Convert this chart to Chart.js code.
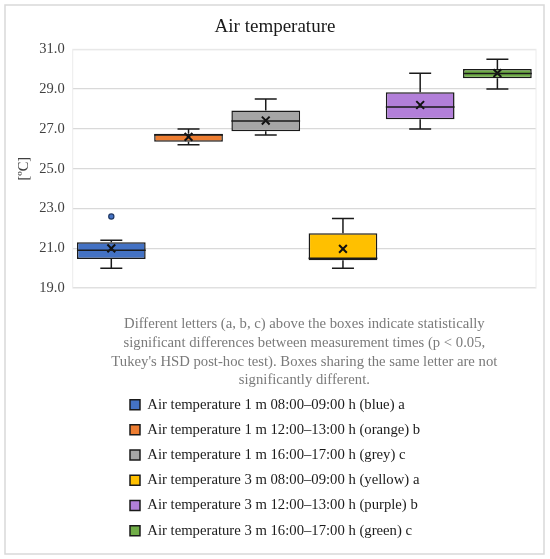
<!DOCTYPE html>
<html lang="en">
<head>
    <meta charset="UTF-8">
    <title>Air temperature</title>
    <script src="https://cdn.jsdelivr.net/npm/chart.js"></script>
    <style>
        body { margin: 0; background: #fff; }
        canvas { display: block; }
    </style>
</head>
<body>
    <canvas id="myChart" width="550" height="559"></canvas>

    <script>
        // series shown as boxes, one per measurement time
        const categories = ['1 m 08-09', '1 m 12-13', '1 m 16-17', '3 m 08-09', '3 m 12-13', '3 m 16-17'];
        const seriesNames = [
            'Air temperature 1 m 08:00–09:00 h (blue) a',
            'Air temperature 1 m 12:00–13:00 h (orange) b',
            'Air temperature 1 m 16:00–17:00 h (grey) c',
            'Air temperature 3 m 08:00–09:00 h (yellow) a',
            'Air temperature 3 m 12:00–13:00 h (purple) b',
            'Air temperature 3 m 16:00–17:00 h (green) c'
        ];
        const boxColors = ['#4472C4', '#ED7D31', '#A5A5A5', '#FFC000', '#B27FD9', '#70AD47'];

        // box plot values [ºC]
        const whiskerLow  = [20.0, 26.2, 26.7, 20.0, 27.0, 29.0];
        const q1          = [20.46, 26.35, 26.88, 20.4, 27.49, 29.54];
        const medians     = [20.9, 26.7, 27.4, 20.5, 28.1, 29.78];
        const q3          = [21.31, 26.76, 27.92, 21.76, 28.84, 30.01];
        const whiskerHigh = [21.4, 27.0, 28.5, 22.5, 29.8, 30.5];
        const means       = [21.0, 26.6, 27.42, 20.97, 28.2, 29.8];
        const outliers    = [22.6, null, null, null, null, null];

        const yTicks = [19, 21, 23, 25, 27, 29, 31];

        const captionLines = [
            'Different letters (a, b, c) above the boxes indicate statistically',
            'significant differences between measurement times (p < 0.05,',
            "Tukey's HSD post-hoc test). Boxes sharing the same letter are not",
            'significantly different.'
        ];

        Chart.defaults.font.family = "'Liberation Serif', 'Times New Roman', serif";

        const boxDatasets = seriesNames.map((name, i) => ({
            type: 'bar',
            label: name,
            data: categories.map((c, j) => j === i ? [q1[i], q3[i]] : null),
            backgroundColor: boxColors[i],
            borderColor: '#1a1a1a',
            borderWidth: 1.5,
            borderSkipped: false,
            grouped: false,
            barPercentage: 0.89,
            categoryPercentage: 1,
            order: 3
        }));

        const meanDataset = {
            type: 'line',
            label: 'Mean',
            data: means,
            showLine: false,
            pointStyle: 'crossRot',
            pointRadius: 5.5,
            pointBorderWidth: 2,
            borderColor: '#111',
            backgroundColor: '#111',
            order: 1
        };

        const outlierDataset = {
            type: 'line',
            label: 'Outlier',
            data: outliers,
            showLine: false,
            pointStyle: 'circle',
            pointRadius: 2.6,
            pointBorderWidth: 1.2,
            borderColor: '#1f3864',
            backgroundColor: '#4472C4',
            order: 2
        };

        // whiskers, caps and median lines, placed with the chart's own scales
        const whiskerPlugin = {
            id: 'whiskers',
            afterDatasetsDraw(chart) {
                const ctx = chart.ctx;
                const y = chart.scales.y;
                ctx.save();
                ctx.strokeStyle = '#1a1a1a';
                ctx.lineWidth = 1.5;
                seriesNames.forEach((name, i) => {
                    const bar = chart.getDatasetMeta(i).data[i];
                    const x = bar.x;
                    const half = bar.width / 2;
                    const cap = bar.width * 0.16;
                    const yHigh = y.getPixelForValue(whiskerHigh[i]);
                    const yLow = y.getPixelForValue(whiskerLow[i]);
                    const yMed = y.getPixelForValue(medians[i]);
                    ctx.beginPath();
                    ctx.moveTo(x, y.getPixelForValue(q3[i]));
                    ctx.lineTo(x, yHigh);
                    ctx.moveTo(x - cap, yHigh);
                    ctx.lineTo(x + cap, yHigh);
                    ctx.moveTo(x, y.getPixelForValue(q1[i]));
                    ctx.lineTo(x, yLow);
                    ctx.moveTo(x - cap, yLow);
                    ctx.lineTo(x + cap, yLow);
                    ctx.moveTo(x - half, yMed);
                    ctx.lineTo(x + half, yMed);
                    ctx.stroke();
                });
                ctx.restore();
            }
        };

        // white page, outer frame and faint plot border
        const framePlugin = {
            id: 'frame',
            beforeDraw(chart) {
                const ctx = chart.ctx;
                ctx.save();
                ctx.fillStyle = '#fff';
                ctx.fillRect(0, 0, chart.width, chart.height);
                ctx.strokeStyle = '#d9d9d9';
                ctx.lineWidth = 1.5;
                ctx.strokeRect(5, 5, chart.width - 11, chart.height - 10);
                ctx.restore();
            },
            beforeDatasetsDraw(chart) {
                const a = chart.chartArea;
                const ctx = chart.ctx;
                ctx.save();
                ctx.strokeStyle = '#ececec';
                ctx.lineWidth = 1;
                ctx.strokeRect(a.left, a.top, a.right - a.left, a.bottom - a.top);
                ctx.restore();
            },
            afterLayout(chart) {
                // legend lines share one left edge, block centred under the plot
                const legend = chart.legend;
                legend.left = 130 - legend.options.labels.padding;
            }
        };

        const myChart = new Chart(document.getElementById('myChart'), {
            type: 'bar',
            data: {
                labels: categories,
                datasets: [...boxDatasets, meanDataset, outlierDataset]
            },
            options: {
                responsive: false,
                animation: false,
                layout: {
                    padding: { top: 6, left: 14, right: 14, bottom: 11 }
                },
                plugins: {
                    title: {
                        display: true,
                        text: 'Air temperature',
                        color: '#1a1a1a',
                        font: { size: 19, weight: 'normal' },
                        padding: { top: 9.5, bottom: 11 }
                    },
                    subtitle: {
                        display: true,
                        position: 'bottom',
                        fullSize: false,
                        weight: 500,
                        text: captionLines,
                        color: '#7a7a7a',
                        font: { size: 14.7, lineHeight: 1.27 },
                        padding: { top: 27, bottom: -3 }
                    },
                    legend: {
                        position: 'bottom',
                        align: 'start',
                        labels: {
                            boxWidth: 10,
                            boxHeight: 10,
                            padding: 10.5,
                            color: '#1a1a1a',
                            font: { size: 14.7 },
                            filter: item => item.datasetIndex < seriesNames.length
                        }
                    },
                    tooltip: { enabled: false }
                },
                scales: {
                    x: {
                        display: false
                    },
                    y: {
                        min: 19,
                        max: 31,
                        afterBuildTicks: scale => {
                            scale.ticks = yTicks.map(v => ({ value: v }));
                        },
                        afterFit: scale => {
                            scale.width = 58.7;
                        },
                        ticks: {
                            padding: 8,
                            color: '#404040',
                            font: { size: 14.5 },
                            callback: v => v.toFixed(1)
                        },
                        grid: {
                            color: '#d9d9d9',
                            lineWidth: 1.3,
                            drawTicks: false
                        },
                        border: { display: false },
                        title: {
                            display: true,
                            text: '[ºC]',
                            color: '#404040',
                            font: { size: 14.5 },
                            padding: { top: 1, bottom: 7 }
                        }
                    }
                }
            },
            plugins: [whiskerPlugin, framePlugin]
        });
    </script>
</body>
</html>
